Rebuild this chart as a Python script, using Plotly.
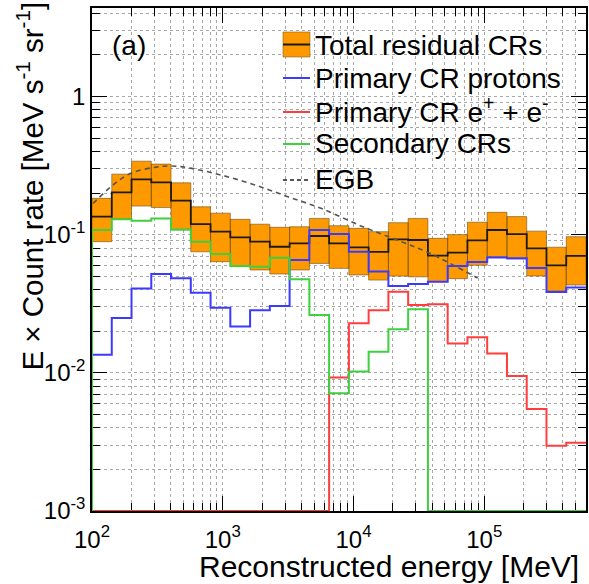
import numpy as np
import plotly.graph_objects as go

# ---------------- data ----------------
E_MIN, E_MAX, N_BINS = 100.0, 6.0e5, 25
edges = np.logspace(np.log10(E_MIN), np.log10(E_MAX), N_BINS + 1)

total = [0.135, 0.202, 0.251, 0.239, 0.176, 0.119, 0.105, 0.0955, 0.0889, 0.0817,
         0.0865, 0.0977, 0.0865, 0.0809, 0.0751, 0.0925, 0.0914, 0.0705, 0.0742, 0.091,
         0.108, 0.101, 0.0796, 0.0600, 0.0703]
total_hi = [0.183, 0.274, 0.340, 0.324, 0.237, 0.159, 0.143, 0.129, 0.119, 0.113,
            0.114, 0.131, 0.116, 0.111, 0.105, 0.122, 0.131, 0.094, 0.100, 0.123,
            0.145, 0.135, 0.106, 0.0811, 0.0966]
total_lo = [0.0889, 0.130, 0.161, 0.157, 0.108, 0.0751, 0.0637, 0.0586, 0.0555, 0.0519,
            0.0555, 0.0619, 0.0570, 0.0511, 0.0469, 0.0501, 0.0495, 0.0456, 0.0480, 0.0600,
            0.0692, 0.0666, 0.0502, 0.0391, 0.0432]
protons = [0.0135, 0.0249, 0.0408, 0.0519, 0.0483, 0.038, 0.0296, 0.0216, 0.0284, 0.0304,
           0.0655, 0.108, 0.101, 0.0751, 0.054, 0.0425, 0.044, 0.0456, 0.0594, 0.0633,
           0.0682, 0.0675, 0.0573, 0.0384, 0.0414]
electrons = [0, 0, 0, 0, 0, 0, 0, 0, 0, 0,
             0, 0, 0.00923, 0.0228, 0.0284, 0.0386, 0.031, 0.0313, 0.0163, 0.0181,
             0.0138, 0.00948, 0.00547, 0.00297, 0.00312]
secondary = [0.108, 0.129, 0.126, 0.131, 0.109, 0.0889, 0.0725, 0.0593, 0.0586, 0.0681,
             0.0475, 0.0262, 0.00711, 0.0102, 0.0142, 0.0207, 0.0288, 0, 0, 0,
             0, 0, 0, 0, 0]
egb_E = [102, 145, 200, 310, 410, 560, 970, 1760, 3150, 5640, 11800, 21500, 38400, 89000]
egb_val = [0.168, 0.229, 0.279, 0.308, 0.314, 0.303, 0.270, 0.229, 0.188, 0.155,
           0.114, 0.0914, 0.0732, 0.0485]

x_ticks = [1e2, 1e3, 1e4, 1e5]
x_ticktext = ["10<sup>2</sup>", "10<sup>3</sup>", "10<sup>4</sup>", "10<sup>5</sup>"]
y_ticks = [1e-3, 1e-2, 1e-1, 1]
y_ticktext = ["10<sup>-3</sup>", "10<sup>-2</sup>", "10<sup>-1</sup>", "1"]

Y_FLOOR = 1e-3
ORANGE = "#FF9900"
BLUE = "#3b3bff"
RED = "#ff3d3d"
GREEN = "#3fcf3f"
FONT = "Liberation Sans, Arial, sans-serif"

# ---------------- figure ----------------
fig = go.Figure()

# uncertainty boxes
bx, by = [], []
for i in range(N_BINS):
    a, b = edges[i], edges[i + 1]
    bx += [a, b, b, a, a, None]
    by += [total_lo[i], total_lo[i], total_hi[i], total_hi[i], total_lo[i], None]
fig.add_trace(go.Scatter(x=bx, y=by, mode="lines", fill="toself", fillcolor=ORANGE,
                         line=dict(color="rgba(110,80,30,0.6)", width=1),
                         showlegend=False, hoverinfo="skip"))


def step(vals, from_floor=True):
    v = [max(x, Y_FLOOR) for x in vals]
    xs = list(edges)
    ys = v + [v[-1]]
    if from_floor:
        xs = [edges[0]] + xs
        ys = [Y_FLOOR] + ys
    return xs, ys


xs, ys = step(total, from_floor=False)
fig.add_trace(go.Scatter(x=xs, y=ys, mode="lines", line=dict(color="#1a1a1a", width=1.8, shape="hv"),
                         showlegend=False))
for vals, col in [(protons, BLUE), (electrons, RED), (secondary, GREEN)]:
    xs, ys = step(vals)
    fig.add_trace(go.Scatter(x=xs, y=ys, mode="lines", line=dict(color=col, width=2, shape="hv"),
                             showlegend=False))

fig.add_trace(go.Scatter(x=egb_E, y=egb_val, mode="lines",
                         line=dict(color="#555555", width=1.6, dash="5px,4px", shape="spline"),
                         showlegend=False))

# ---------------- axes ----------------
x_minor = [k * 10 ** p for p in range(2, 6) for k in range(2, 10)]
y_minor = [k * 10.0 ** p for p in range(-3, 1) for k in range(2, 10)]

grid = dict(showgrid=True, gridcolor="#a8a8a8", gridwidth=1, griddash="3px,3px")
common = dict(showline=True, linecolor="black", linewidth=1.5, mirror="allticks",
              ticks="inside", ticklen=15, tickwidth=1, tickcolor="black",
              layer="below traces", zeroline=False, automargin=False,
              tickfont=dict(family=FONT, size=24, color="black"), **grid)

fig.update_xaxes(type="log", range=[np.log10(E_MIN), np.log10(E_MAX)],
                 tickmode="array", tickvals=x_ticks, ticktext=x_ticktext,
                 ticklabelstandoff=6,
                 minor=dict(tickmode="array", tickvals=x_minor, ticks="inside", ticklen=8,
                            tickcolor="black", **grid),
                 **common)
fig.update_yaxes(type="log", range=[-3, 0.64],
                 tickmode="array", tickvals=y_ticks, ticktext=y_ticktext,
                 minor=dict(tickmode="array", tickvals=y_minor, ticks="inside", ticklen=8,
                            tickcolor="black", **grid),
                 **common)

# ---------------- manual legend ----------------
shapes = []
annotations = []
lx0, lx1 = 0.3866, 0.4413
shapes.append(dict(type="rect", xref="paper", yref="paper", x0=lx0, x1=lx1, y0=0.9026, y1=0.9523,
                   fillcolor=ORANGE, line=dict(color="rgba(110,80,30,0.5)", width=1)))
shapes.append(dict(type="line", xref="paper", yref="paper", x0=lx0, x1=lx1, y0=0.9274, y1=0.9274,
                   line=dict(color="#1a1a1a", width=2)))
for yy, col, dash in [(0.8608, BLUE, "solid"), (0.7932, RED, "solid"),
                      (0.7296, GREEN, "solid"), (0.6581, "#555555", "4px,3px")]:
    shapes.append(dict(type="line", xref="paper", yref="paper", x0=lx0, x1=lx1, y0=yy, y1=yy,
                       line=dict(color=col, width=2, dash=dash)))

legend_text = ["Total residual CRs", "Primary CR protons",
               "Primary CR e<sup>+</sup> + e<sup>-</sup>", "Secondary CRs", "EGB"]
legend_y = [0.9264, 0.8608, 0.7972, 0.7316, 0.6581]
for t, yy in zip(legend_text, legend_y):
    annotations.append(dict(text=t, xref="paper", yref="paper", x=0.4474, y=yy,
                            xanchor="left", yanchor="middle", showarrow=False,
                            font=dict(family=FONT, size=28, color="black")))

annotations.append(dict(text="(a)", xref="paper", yref="paper", x=0.0749, y=0.9264,
                        xanchor="center", yanchor="middle", showarrow=False,
                        font=dict(family=FONT, size=28, color="black")))
annotations.append(dict(text="Reconstructed energy [MeV]", xref="paper", yref="paper",
                        x=0.99, y=0, xanchor="right", yanchor="top", yshift=-37,
                        showarrow=False, font=dict(family=FONT, size=30, color="black")))
annotations.append(dict(text="E × Count rate [MeV s<sup>-1</sup> sr<sup>-1</sup>]",
                        xref="paper", yref="paper", x=-0.1255, y=0.645, textangle=-90,
                        xanchor="center", yanchor="middle", showarrow=False,
                        font=dict(family=FONT, size=29.5, color="black")))

fig.update_layout(width=589, height=584, margin=dict(l=92, r=3, t=8, b=73),
                  paper_bgcolor="white", plot_bgcolor="white",
                  shapes=shapes, annotations=annotations, showlegend=False,
                  font=dict(family=FONT, color="black"))

fig.write_html("out.html", config={"displayModeBar": False},
               post_script="document.body.style.margin='0px';document.body.style.overflow='hidden';")
